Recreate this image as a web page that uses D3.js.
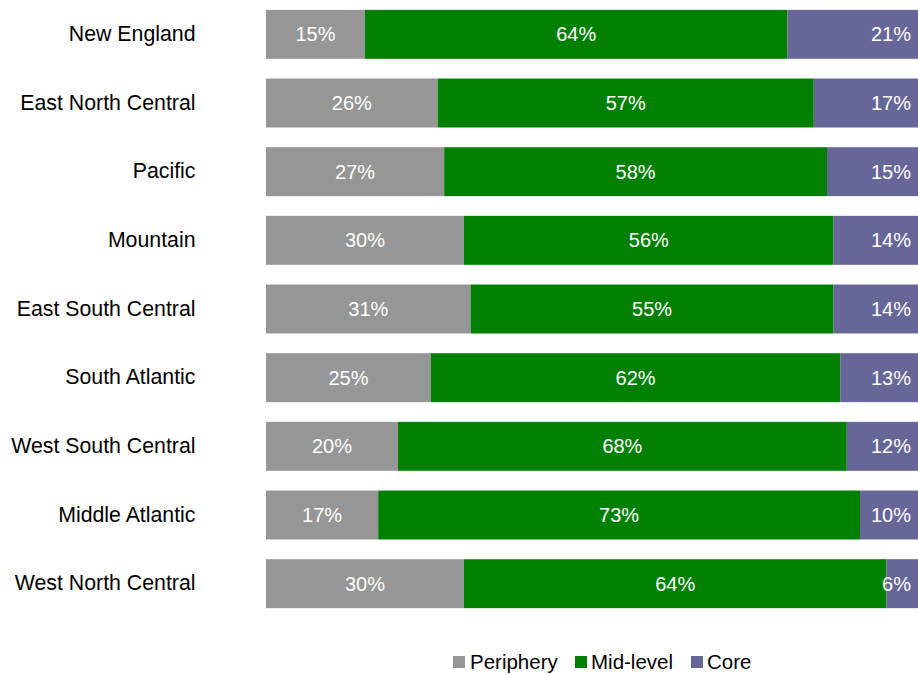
<!DOCTYPE html>
<html>
<head>
<meta charset="utf-8">
<script src="https://cdn.jsdelivr.net/npm/d3@7"></script>
<style>
  html, body { margin: 0; padding: 0; background: #fff; overflow: hidden; }
  svg { display: block; font-family: "Liberation Sans", Arial, sans-serif; }
</style>
</head>
<body>
<svg id="chart" width="918" height="675"></svg>
<script>
// Regions, top to bottom
const regions = [
  "New England", "East North Central", "Pacific", "Mountain",
  "East South Central", "South Atlantic", "West South Central",
  "Middle Atlantic", "West North Central"
];
// Share of each tier (%)
const periphery = [15, 26, 27, 30, 31, 25, 20, 17, 30];
const midLevel  = [64, 57, 58, 56, 55, 62, 68, 73, 64];
const core      = [21, 17, 15, 14, 14, 13, 12, 10, 6];

const seriesNames  = ["Periphery", "Mid-level", "Core"];
const seriesColors = ["#969696", "#008000", "#666699"];

const W = 918, H = 675;
const svg = d3.select("#chart");

const rows = regions.map((r, i) => ({
  region: r,
  "Periphery": periphery[i],
  "Mid-level": midLevel[i],
  "Core": core[i]
}));

const stack = d3.stack().keys(seriesNames);
const layers = stack(rows);

const x = d3.scaleLinear().domain([0, 100]).range([266, 926]);
const y = d3.scaleBand().domain(regions).range([0, 618]).paddingInner(0.287).paddingOuter(0.1435);
const color = d3.scaleOrdinal().domain(seriesNames).range(seriesColors);

// Category axis (labels only)
const yAxis = d3.axisLeft(y).tickSize(0).tickPadding(0);
const gy = svg.append("g").attr("transform", "translate(195.5,0)").call(yAxis);
gy.select(".domain").remove();
gy.selectAll("text")
  .attr("fill", "#000")
  .style("font-size", "21.3px")
  .style("font-family", "Liberation Sans, Arial, sans-serif");

// Stacked bars
const layerG = svg.append("g").selectAll("g")
  .data(layers).join("g")
  .attr("fill", d => color(d.key));

layerG.selectAll("rect")
  .data(d => d.map(s => ({ key: d.key, s })))
  .join("rect")
  .attr("x", d => x(d.s[0]))
  .attr("y", d => y(d.s.data.region))
  .attr("width", d => x(d.s[1]) - x(d.s[0]))
  .attr("height", y.bandwidth());

// Value labels
const labelG = svg.append("g")
  .attr("fill", "#fff")
  .style("font-size", "20px");

layers.forEach(layer => {
  labelG.selectAll(null)
    .data(layer)
    .join("text")
    .attr("x", s => layer.key === "Core" ? Math.min(x(s[1]), W) - 7 : (x(s[0]) + x(s[1])) / 2)
    .attr("y", s => y(s.data.region) + y.bandwidth() / 2)
    .attr("dy", "0.35em")
    .attr("text-anchor", layer.key === "Core" ? "end" : "middle")
    .text(s => (s[1] - s[0]) + "%");
});

// Legend
const legendItems = [
  { name: "Periphery", sx: 453, tx: 470 },
  { name: "Mid-level", sx: 575, tx: 591 },
  { name: "Core", sx: 691, tx: 707 }
];
const lg = svg.append("g").style("font-size", "20.5px");
const items = lg.selectAll("g").data(legendItems).join("g");
items.append("rect")
  .attr("x", d => d.sx).attr("y", 656)
  .attr("width", 12).attr("height", 12)
  .attr("fill", d => color(d.name));
items.append("text")
  .attr("x", d => d.tx).attr("y", 669)
  .attr("fill", "#000")
  .text(d => d.name);
</script>
</body>
</html>
